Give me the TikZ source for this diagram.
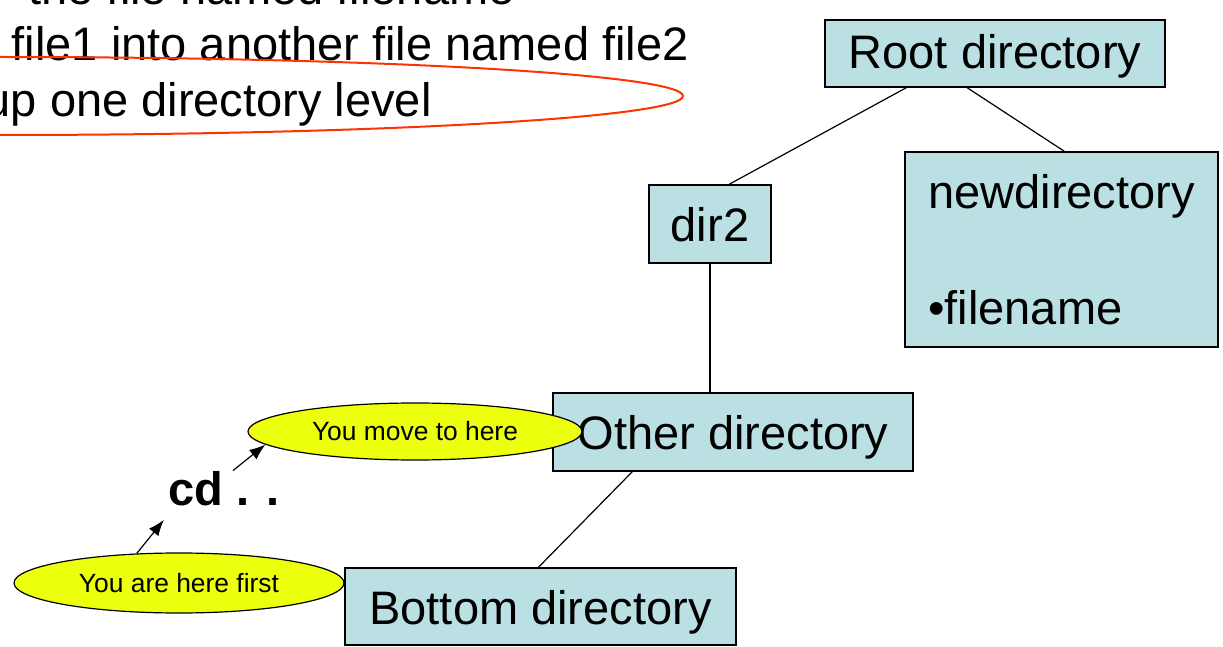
\documentclass[tikz,border=0pt]{standalone}
\usepackage{fontspec}
\setmainfont{Liberation Sans}
\usetikzlibrary{shapes.geometric,arrows.meta}
\definecolor{dirblue}{RGB}{187,224,227}
\definecolor{hiyellow}{RGB}{236,255,12}
\definecolor{markred}{RGB}{255,51,0}
\tikzset{
  dirbox/.style={draw=black,line width=0.75pt,fill=dirblue,inner sep=0pt,font=\fontsize{23.5}{28}\selectfont},
  dirline/.style={dirbox,text height=17.6pt,text depth=0pt},
  bubble/.style={ellipse,draw=black,line width=0.6pt,fill=hiyellow,inner sep=0pt,font=\fontsize{13.2}{16}\selectfont},
  link/.style={line width=0.6pt},
  arr/.style={-{Latex[length=8pt,width=6pt]},line width=0.6pt},
  note/.style={anchor=base east,inner sep=0pt,font=\fontsize{23.5}{28}\selectfont},
}
\begin{document}
\begin{tikzpicture}[x=0.5pt,y=-0.5pt]
    \useasboundingbox (0,0) rectangle (1223,647);
    \clip (0,0) rectangle (1223,647);
    % command list, cut off at the edge
    \node[note] (l1) at (515,5) {the file named filename};
    \node[note] (l2) at (689,61) {file1 into another file named file2};
    \node[note] (l3) at (432,117) {up one directory level};
    \draw[markred,line width=1pt] (0,96) ellipse [x radius=683, y radius=39];
    % directory tree
    \node[dirline,text depth=3pt,minimum width=170pt,minimum height=33.5pt] (root) at (995,53.5) {Root directory};
    \node[dirbox,minimum width=156.5pt,minimum height=97.5pt,align=left] (newdir) at (1061.5,249.5) {newdirectory\\[30pt]•filename};
    \node[dirline,minimum width=61pt,minimum height=39pt] (dir2) at (710,224) {dir2};
    \node[dirline,minimum width=180pt,minimum height=39pt] (other) at (733,432) {Other directory};
    \node[dirline,minimum width=195.5pt,minimum height=38.5pt] (bottom) at (540.5,606.5) {Bottom directory};
    \draw[link] ([xshift=41pt]root.south west) -- ([xshift=40.5pt]dir2.north west);
    \draw[link] ([xshift=71.5pt]root.south west) -- ([xshift=80pt]newdir.north west);
    \draw[link] (dir2.south) -- (dir2.south |- other.north);
    \draw[link] ([xshift=40pt]other.south west) -- ([xshift=-1pt]bottom.north);
    % where you are
    \node[bubble,minimum width=167pt,minimum height=28.5pt] (ymove) at (415,431.5) {You move to here};
    \node[bubble,minimum width=165pt,minimum height=30pt] (yfirst) at (179,583) {You are here first};
    \node[font=\bfseries\fontsize{23.5}{28}\selectfont,anchor=base,inner sep=0pt] (cd) at (224,505) {cd . .};
    \draw[arr] (yfirst.145) -- ([xshift=-2pt,yshift=-7pt]cd.south west);
    \draw[arr] ([xshift=4.5pt]cd.north) -- (ymove.185);
\end{tikzpicture}
\end{document}
